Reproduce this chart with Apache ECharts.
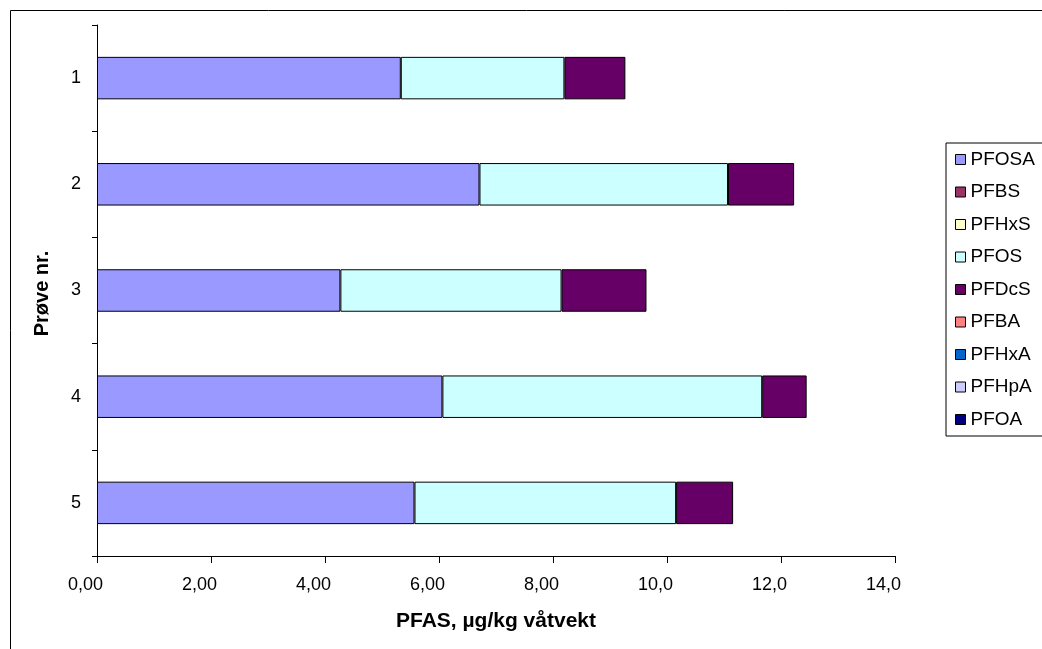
<!DOCTYPE html>
<html>
<head>
<meta charset="utf-8">
<script src="https://cdn.jsdelivr.net/npm/echarts@6/dist/echarts.min.js"></script>
<style>
html,body{margin:0;padding:0;background:#fff;}
#chart{width:1042px;height:649px;}
</style>
</head>
<body>
<div id="chart"></div>
<script>
const categories = ['1', '2', '3', '4', '5'];
const seriesNames = ['PFOSA', 'PFBS', 'PFHxS', 'PFOS', 'PFDcS', 'PFBA', 'PFHxA', 'PFHpA', 'PFOA'];
const PFOSA = [5.33, 6.71, 4.27, 6.06, 5.57];
const PFBS  = [0, 0, 0, 0, 0];
const PFHxS = [0, 0, 0, 0, 0];
const PFOS  = [2.87, 4.36, 3.88, 5.61, 4.59];
const PFDcS = [1.07, 1.16, 1.49, 0.78, 1.00];
const PFBA  = [0, 0, 0, 0, 0];
const PFHxA = [0, 0, 0, 0, 0];
const PFHpA = [0, 0, 0, 0, 0];
const PFOA  = [0, 0, 0, 0, 0];
const seriesValues = [PFOSA, PFBS, PFHxS, PFOS, PFDcS, PFBA, PFHxA, PFHpA, PFOA];
const colors = ['#9999FF', '#993366', '#FFFFCC', '#CCFFFF', '#660066', '#FF8080', '#0066CC', '#CCCCFF', '#000080'];

const chart = echarts.init(document.getElementById('chart'));
const font = 'Liberation Sans, Arial, sans-serif';

function fmt(v) {
  const s = v < 10 ? v.toFixed(2) : v.toFixed(1);
  return s.replace('.', ',');
}

chart.setOption({
  animation: false,
  color: colors,
  textStyle: { fontFamily: font },
  graphic: [{
    type: 'rect',
    shape: { x: 10.5, y: 10.5, width: 1200, height: 1000 },
    style: { fill: 'none', stroke: '#000', lineWidth: 1 },
    silent: true
  }],
  grid: { left: 97, right: 147, top: 25, bottom: 93, containLabel: false },
  legend: {
    orient: 'vertical',
    left: 946,
    top: 143,
    padding: [7, 60, 7, 9],
    itemGap: 13.5,
    itemWidth: 10,
    itemHeight: 10,
    borderColor: '#000',
    borderWidth: 1,
    icon: 'rect',
    itemStyle: { borderColor: '#000', borderWidth: 1 },
    textStyle: { fontFamily: font, fontSize: 19, color: '#000', lineHeight: 19 },
    data: seriesNames
  },
  xAxis: {
    type: 'value',
    min: 0,
    max: 14,
    interval: 2,
    name: 'PFAS, µg/kg våtvekt',
    nameLocation: 'middle',
    nameGap: 55,
    nameTextStyle: { fontFamily: font, fontSize: 21, fontWeight: 'bold', color: '#000' },
    axisLine: { show: true, lineStyle: { color: '#000', width: 1 } },
    axisTick: { show: true, length: 7, lineStyle: { color: '#000' } },
    splitLine: { show: false },
    axisLabel: { formatter: fmt, fontFamily: font, fontSize: 18, color: '#000', margin: 20, padding: [0, 23, 0, 0] }
  },
  yAxis: {
    type: 'category',
    data: categories,
    inverse: true,
    name: 'Prøve nr.',
    nameLocation: 'middle',
    nameGap: 45,
    nameRotate: 90,
    nameTextStyle: { fontFamily: font, fontSize: 20, fontWeight: 'bold', color: '#000', padding: [0, 6, 0, 0] },
    axisLine: { show: true, lineStyle: { color: '#000', width: 1 } },
    axisTick: { show: true, length: 5, alignWithLabel: false, lineStyle: { color: '#000' } },
    axisLabel: { fontFamily: font, fontSize: 18, color: '#000', margin: 16 }
  },
  series: seriesNames.map((name, i) => ({
    name: name,
    type: 'bar',
    stack: 'total',
    barCategoryGap: '60%',
    data: seriesValues[i],
    itemStyle: { color: colors[i], borderColor: '#000', borderWidth: seriesValues[i].some(v => v > 0) ? 1 : 0 }
  }))
});
</script>
</body>
</html>
